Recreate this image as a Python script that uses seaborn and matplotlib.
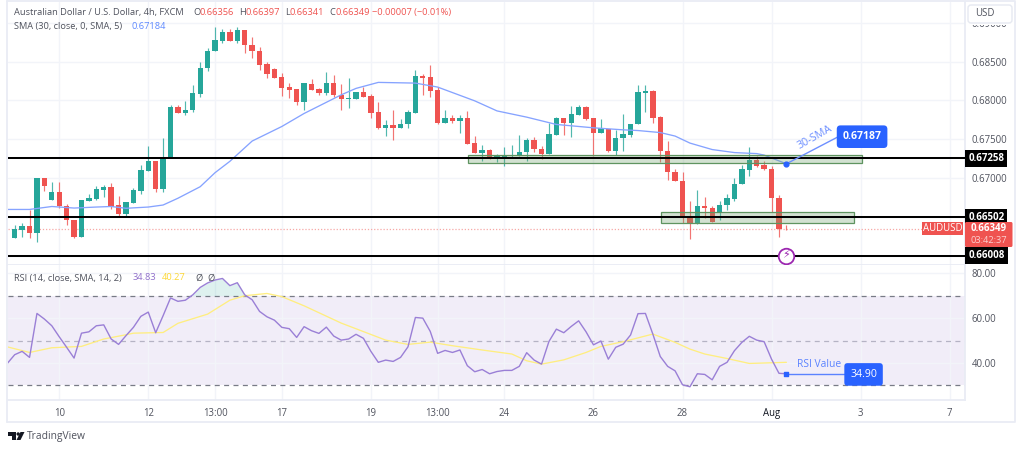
import numpy as np
import pandas as pd
import matplotlib
matplotlib.use("Agg")
import matplotlib.pyplot as plt
from matplotlib.patches import Rectangle, Polygon, Circle, FancyBboxPatch
import seaborn as sns

# AUD/USD 4h candles
open_ = [.66240,.66343,.66394,.66304,.67005,.66717,.66828,.66649,.66468,.66252,.66704,.66735,.66850,.66893,.66652,
         .66545,.66683,.66841,.67099,.67219,.66858,.67280,.67915,.67837,.67872,.68087,.68417,.68632,.68765,.68873,
         .68757,.68899,.68710,.68641,.68465,.68404,.68297,.68168,.68146,.67984,.68215,.68146,.68095,.68219,.68074,
         .68014,.68023,.68104,.68052,.67846,.67644,.67682,.67653,.67692,.67837,.68319,.68297,.68130,.67713,.67773,
         .67739,.67773,.67456,.67327,.67361,.67263,.67280,.67289,.67289,.67335,.67498,.67383,.67314,.67563,.67769,
         .67717,.67812,.67911,.67769,.67585,.67640,.67357,.67515,.67563,.67695,.68099,.68117,.67786,.67351,.67086,
         .66970,.66506,.66420,.66639,.66623,.66558,.66652,.66735,.66923,.67108,.67241,.67168,.67121,.66747,.66356]
high = [.66403,.66425,.66593,.67005,.67005,.66953,.66953,.66670,.66468,.66717,.66799,.66902,.66919,.66945,.66777,
        .66696,.66880,.67177,.67418,.67228,.67512,.67940,.67945,.67992,.68198,.68500,.68675,.68938,.68916,.68916,
        .68938,.68899,.68817,.68687,.68490,.68422,.68352,.68228,.68146,.68228,.68280,.68164,.68361,.68323,.68215,
        .68293,.68104,.68172,.68087,.67984,.67752,.67881,.67765,.67872,.68396,.68345,.68456,.68172,.67872,.67808,
        .67808,.67863,.67550,.67430,.67374,.67314,.67409,.67430,.67563,.67520,.67537,.67418,.67709,.67786,.67769,
        .67924,.67937,.67928,.67769,.67756,.67640,.67627,.67830,.67704,.68198,.68194,.68139,.67795,.67485,.67121,
        .67077,.66704,.66850,.66755,.66649,.66704,.66799,.67005,.67177,.67400,.67289,.67228,.67164,.66781,.66397]
low = [.66236,.66252,.66232,.66188,.66841,.66717,.66614,.66407,.66232,.66252,.66704,.66717,.66760,.66610,.66519,
       .66502,.66683,.66799,.67099,.66820,.66828,.67280,.67837,.67811,.67850,.68043,.68379,.68632,.68744,.68761,
       .68744,.68610,.68546,.68396,.68293,.68288,.68056,.68030,.67940,.67872,.68138,.68069,.68069,.68043,.67881,
       .67907,.68023,.68043,.67778,.67631,.67550,.67498,.67653,.67644,.67837,.68065,.68043,.67700,.67713,.67708,
       .67580,.67447,.67322,.67219,.67250,.67206,.67155,.67258,.67289,.67219,.67335,.67250,.67314,.67563,.67563,
       .67528,.67812,.67743,.67284,.67585,.67344,.67305,.67357,.67528,.67695,.67850,.67717,.67206,.66983,.66961,
       .66433,.66227,.66412,.66490,.66446,.66472,.66593,.66713,.66923,.67031,.67142,.67108,.66574,.66252,.66341]
close = [.66356,.66394,.66304,.67005,.66906,.66828,.66645,.66464,.66252,.66717,.66742,.66858,.66893,.66632,.66545,
         .66696,.66845,.67108,.67219,.66858,.67280,.67915,.67837,.67881,.68095,.68422,.68636,.68770,.68873,.68761,
         .68899,.68710,.68632,.68456,.68345,.68288,.68159,.68138,.67984,.68219,.68138,.68099,.68219,.68065,.68014,
         .68036,.68104,.68043,.67837,.67644,.67682,.67653,.67700,.67846,.68310,.68293,.68117,.67713,.67773,.67739,
         .67773,.67447,.67322,.67361,.67250,.67296,.67293,.67306,.67340,.67498,.67374,.67314,.67572,.67769,.67717,
         .67821,.67911,.67756,.67585,.67644,.67357,.67520,.67567,.67704,.68104,.68117,.67778,.67348,.67077,.66961,
         .66497,.66420,.66639,.66619,.66446,.66661,.66747,.66932,.67116,.67241,.67155,.67121,.66742,.66347,.66349]

sma_bars = [-1,2,5,8,11,13,15,18,20,22,25,27,29,32,36,39,44,46,49,54,57,62,65,69,73,78,82,84,87,89,91,94,97,100,101,104]
sma_vals = [.66601,.66601,.66639,.66619,.66632,.66639,.66616,.66632,.66658,.66745,.66893,.67073,.67219,.67479,.67666,
            .67833,.68072,.68155,.68232,.68223,.68172,.67995,.67866,.67786,.67692,.67649,.67623,.67614,.67588,.67543,
            .67453,.67370,.67331,.67318,.67299,.67187]

rsi_vals = [39.8,43.7,45.2,42.5,62.1,59.6,56.6,51.7,47.0,42.2,53.3,53.9,56.6,57.0,50.7,48.3,52.2,55.9,60.8,62.7,53.5,
            61.1,69.0,67.5,68.0,70.4,73.7,75.7,77.0,77.7,74.5,75.8,70.4,68.2,63.0,60.6,59.1,55.9,55.3,51.4,56.2,54.4,
            53.2,56.0,52.0,50.2,50.7,52.8,51.0,45.2,40.3,41.3,40.7,42.5,47.2,60.3,60.0,54.1,44.3,45.6,44.7,45.8,38.8,
            36.1,37.1,35.2,36.2,36.7,36.7,38.5,44.6,41.3,39.5,49.6,55.1,53.5,56.3,58.8,53.9,48.1,49.8,41.7,47.0,48.4,
            52.5,62.0,62.1,52.9,42.9,38.5,36.5,30.3,29.4,35.2,34.9,32.5,38.5,40.3,45.5,49.2,51.9,50.2,49.5,41.7,35.4,35.2]
rsi_bars = list(range(-1, 105))

rsi_ma_bars = [-1,2,5,9,12,15,16,20,22,26,29,31,34,36,39,44,47,50,53,56,59,63,67,69,71,74,77,79,82,86,89,91,93,96,99,104]
rsi_ma_vals = [47.2,44.7,46.8,47.4,50.7,52.6,53.3,53.6,57.7,61.8,68.0,70.0,71.0,69.6,65.5,57.8,54.0,50.2,48.3,49.3,47.7,
               45.8,44.0,41.0,39.5,41.4,44.7,47.4,49.5,52.9,49.2,46.2,44.0,42.0,39.8,40.3]

level_prices = [.67258, .66502, .66008]
level_labels = ["0.67258", "0.66502", "0.66008"]
zone_bars = [(61.05, 114.15), (87.06, 113.15)]
zone_prices = [(.67202, .67302), (.66433, .66562)]
price_ticks = [.690, .685, .680, .675, .670, .665, .660]
price_labels = ["0.69000", "0.68500", "0.68000", "0.67500", "0.67000", "", ""]
rsi_ticks = [40, 60, 80]
rsi_labels = ["40.00", "60.00", "80.00"]
time_ticks = [6, 18, 27, 36, 48, 57, 66, 78, 90, 102, 114, 126]
time_labels = ["10", "12", "13:00", "17", "19", "13:00", "24", "26", "28", "Aug", "3", "7"]

UP = "#26a69a"
DOWN = "#ef5350"
GRID = "#f2f4f9"
EDGE = "#e9ecf4"
TEXT = "#50535e"
BLUE = "#2962ff"
PURPLE = "#9a7fd6"
YELLOW = "#ffee80"
W, H = 1024, 450

sns.set_theme(style="white")
plt.rcParams["font.family"] = ["Open Sans", "DejaVu Sans"]

fig = plt.figure(figsize=(W / 100, H / 100), dpi=100, facecolor="white")


def pane(left, top, right, bottom):
    return fig.add_axes([left / W, 1 - bottom / H, (right - left) / W, (bottom - top) / H])


ax = pane(8, 2, 965, 265)
ax_rsi = pane(8, 265, 965, 400)

# bar index -> pixel is 14.7 + 7.42 * i
xlim = (-0.903, 128.07)
for a in (ax, ax_rsi):
    a.set_xlim(*xlim)
    a.set_xticks(time_ticks)
    a.yaxis.tick_right()
    a.tick_params(length=0, colors=TEXT, labelsize=6.9, pad=4.8)
    a.grid(True, color=GRID, lw=1)
    a.set_axisbelow(True)
    a.set_xlabel("")
    a.set_ylabel("")
    for s in a.spines.values():
        s.set_color(EDGE)
        s.set_linewidth(1.3)
    a.spines["top"].set_visible(False)
    a.spines["left"].set_visible(False)

ax.set_ylim(.65888, .69264)
ax.set_yticks(price_ticks, price_labels)
ax.tick_params(labelbottom=False)

df = pd.DataFrame({"open": open_, "high": high, "low": low, "close": close})
df["bar"] = df.index
df["color"] = np.where(df["close"] >= df["open"], UP, DOWN)

# candles
ax.vlines(df["bar"], df["low"], df["high"], colors=df["color"], lw=0.85, alpha=0.8, zorder=2)
ax.bar(df["bar"], (df["close"] - df["open"]).abs().clip(lower=.00002),
       bottom=df[["open", "close"]].min(axis=1), width=0.72, color=df["color"], lw=0, zorder=3)

sns.lineplot(x=sma_bars, y=sma_vals, ax=ax, color="#86a3ff", lw=0.95, errorbar=None, zorder=4)

# horizontal levels and zones
ax.axhline(close[-1], color="#f7a8a6", lw=0.9, ls=(0, (1, 1.5)), zorder=1)
for (b0, b1), (p0, p1) in zip(zone_bars, zone_prices):
    ax.add_patch(Rectangle((b0, p0), b1 - b0, p1 - p0, fc=(0.46, 0.64, 0.44, 0.32), ec="#5f9460", lw=0.9, zorder=5))
for p in level_prices:
    ax.axhline(p, color="black", lw=1.45, zorder=6)

# price tags on the right axis
tag_tf = ax.get_yaxis_transform()
for p, lab in zip(level_prices, level_labels):
    ax.text(1.0035, p, lab, transform=tag_tf, color="white", fontsize=7, fontweight="bold", va="center", ha="left",
            bbox=dict(boxstyle="square,pad=0.3", fc="black", ec="none"), zorder=9, clip_on=False)

# 30-SMA callout
ax.plot([sma_bars[-1], 111], [sma_vals[-1], .67535], color="#6d8fff", lw=1, zorder=7)
ax.scatter([sma_bars[-1]], [sma_vals[-1]], s=12, color=BLUE, zorder=8)
ax.text(107.9, .67524, "30-SMA", color="#6d8fff", fontsize=7.8, rotation=29.5, ha="center", va="center",
        rotation_mode="anchor", zorder=8)
ax.text(114.2, .67535, "%.5f" % sma_vals[-1], color="white", fontsize=7.6, fontweight="bold", ha="center", va="center",
        bbox=dict(boxstyle="round,pad=0.55,rounding_size=0.35", fc=BLUE, ec="none"), zorder=9)

# flash marker
ax.scatter([sma_bars[-1]], [level_prices[2]], s=125, fc="white", ec="#9c27b0", lw=1.3, zorder=8)
ax.text(sma_bars[-1], level_prices[2], "\u26a1", color="#9c27b0", fontsize=8, ha="center", va="center",
        family="DejaVu Sans", zorder=9)

# RSI pane
ax_rsi.set_ylim(23.5, 83.7)
ax_rsi.axhspan(30, 70, color="#7e57c2", alpha=0.1, lw=0, zorder=0)
for lvl, col in zip([70, 50, 30], ["#787b86", "#b5b3c4", "#787b86"]):
    ax_rsi.axhline(lvl, color=col, lw=0.9, ls=(0, (4, 3.5)), zorder=1)
rsi_arr = np.array(rsi_vals)
ax_rsi.fill_between(rsi_bars, 70, rsi_arr, where=rsi_arr >= 70, interpolate=True, color="#26a69a", alpha=0.15, lw=0)
sns.lineplot(x=rsi_ma_bars, y=rsi_ma_vals, ax=ax_rsi, color=YELLOW, lw=0.95, errorbar=None, zorder=3)
sns.lineplot(x=rsi_bars, y=rsi_vals, ax=ax_rsi, color=PURPLE, lw=1.0, errorbar=None, zorder=4)
ax_rsi.set_yticks(rsi_ticks, rsi_labels)
ax_rsi.set_xticks(time_ticks, time_labels)
ax_rsi.tick_params(axis="x", pad=6, labelsize=6.9)
ax_rsi.set_xlim(*xlim)
for t in ax_rsi.get_xticklabels():
    if t.get_text() == "Aug":
        t.set_color("#131722")

ax_rsi.plot([104, 112], [34.9, 34.9], color="#5b82ff", lw=1, zorder=5)
ax_rsi.scatter([104], [34.9], s=10, marker="s", color=BLUE, zorder=6)
ax_rsi.text(105.4, 39.2, "RSI Value", color="#5b82ff", fontsize=7.4, va="center", ha="left", zorder=6)
ax_rsi.text(114.4, 34.9, "34.90", color="white", fontsize=7.6, ha="center", va="center",
            bbox=dict(boxstyle="round,pad=0.55,rounding_size=0.3", fc=BLUE, ec="none"), zorder=7)

# overlay in pixels for the header text, the frame and the small widgets
ov = fig.add_axes([0, 0, 1, 1], zorder=10)
ov.set_xlim(0, W)
ov.set_ylim(H, 0)
ov.axis("off")
ov.patch.set_alpha(0)

# frame
ov.plot([7, 7], [1, 422], color=EDGE, lw=1.3)
ov.plot([7, 1015, 1015, 7], [422, 422, 1, 1], color=EDGE, lw=1.3)

# header
FS = 6.7
ov.text(14, 12.5, "Australian Dollar / U.S. Dollar, 4h, FXCM", color=TEXT, fontsize=FS, va="center")
for x, s, c in [(193, "O", TEXT), (200, "0.66356", DOWN), (239, "H", TEXT), (245, "0.66397", DOWN),
                (285, "L", TEXT), (290, "0.66341", DOWN), (329, "C", TEXT), (335, "0.66349", DOWN),
                (372, "\u22120.00007 (\u22120.01%)", DOWN)]:
    ov.text(x, 12.5, s, color=c, fontsize=FS, va="center")
ov.text(14, 26.5, "SMA (30, close, 0, SMA, 5)", color=TEXT, fontsize=FS, va="center")
ov.text(132, 26.5, "0.67184", color=BLUE, alpha=0.75, fontsize=FS, va="center")
ov.text(14, 278, "RSI (14, close, SMA, 14, 2)", color=TEXT, fontsize=FS, va="center")
ov.text(133, 278, "34.83", color="#7e57c2", alpha=0.85, fontsize=FS, va="center")
ov.text(162, 278, "40.27", color="#fdd835", fontsize=FS, va="center")
ov.text(195, 278, "\u00d8", color=TEXT, fontsize=FS, va="center")
ov.text(207, 278, "\u00d8", color=TEXT, fontsize=FS, va="center")

# USD button, the band behind it hides the top of the first price label
ov.add_patch(Rectangle((966, 2), 48.3, 23, fc="white", ec="none"))
ov.add_patch(FancyBboxPatch((968, 5), 44, 18, boxstyle="round,pad=0,rounding_size=3", fc="white", ec="#e6e9f1", lw=1))
ov.text(975, 14, "USD", color=TEXT, fontsize=6.9, va="center")

# current price tags
ov.add_patch(Rectangle((922, 222), 41, 13, fc=DOWN, ec="none"))
ov.text(942.5, 228.8, "AUDUSD", color="white", fontsize=6.9, ha="center", va="center")
ov.add_patch(FancyBboxPatch((965, 222), 47.5, 25, boxstyle="round,pad=0,rounding_size=1.5", fc=DOWN, ec="none"))
ov.text(988.5, 228.8, "0.66349", color="white", fontsize=7, fontweight="bold", ha="center", va="center")
ov.text(988.5, 240.5, "03:42:37", color="#fbd0cf", fontsize=6.7, ha="center", va="center")

# TradingView mark
ov.add_patch(Polygon([(8, 432), (16, 432), (16, 440), (12, 440), (12, 436), (8, 436)], fc="#131722", ec="none"))
ov.add_patch(Circle((18.2, 434), 1.7, fc="#131722", ec="none"))
ov.add_patch(Polygon([(20.5, 432), (24.5, 432), (20.5, 440), (16.5, 440)], fc="#131722", ec="none"))
ov.text(27, 436.3, "TradingView", color="#50535e", fontsize=7.4, va="center")

fig.savefig("out.png", dpi=100, facecolor="white")
